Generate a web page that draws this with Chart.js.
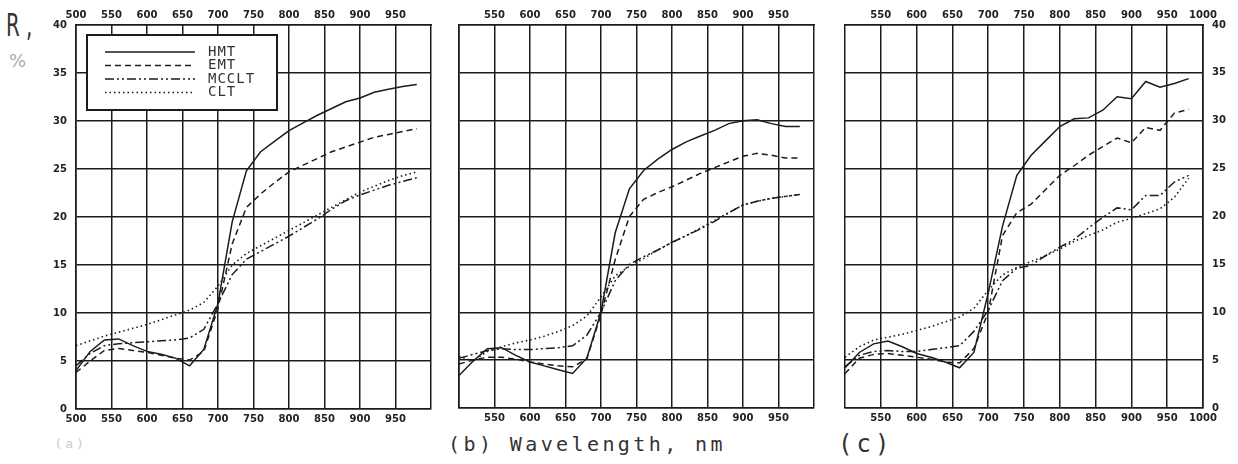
<!DOCTYPE html>
<html>
<head>
<meta charset="utf-8">
<script src="https://cdn.jsdelivr.net/npm/chart.js@4.4.0/dist/chart.umd.min.js"></script>
<style>
    body { margin: 0; background: #fff; width: 1238px; height: 464px; overflow: hidden; position: relative; font-family: 'DejaVu Sans', sans-serif; }
    .panel { position: absolute; top: 0; height: 432px; }
    #wrapA { left: 0; width: 470px; }
    #wrapB { left: 420px; width: 430px; }
    #wrapC { left: 810px; width: 428px; }
    .lbl { position: absolute; color: #222; white-space: nowrap; line-height: 1; }
</style>
</head>
<body>
<div class="lbl" style="left:6px;top:9px;font-size:32px;color:#333;transform:scaleX(0.62);transform-origin:left;">R ,</div>
<div class="lbl" style="left:9px;top:52px;font-size:18px;color:#aaa;">%</div>
<div class="lbl" style="left:56px;top:437px;font-size:13px;color:#ccc;">( a )</div>
<div class="lbl" style="left:448px;top:434px;font-size:20px;letter-spacing:3.4px;font-family:'DejaVu Sans Mono',monospace;color:#333;">(b) Wavelength, nm</div>
<div class="lbl" style="left:838px;top:432px;font-size:24px;letter-spacing:4px;font-family:'DejaVu Sans Mono',monospace;color:#333;">(c)</div>

<div class="panel" id="wrapA"><canvas id="chartA"></canvas></div>
<div class="panel" id="wrapB"><canvas id="chartB"></canvas></div>
<div class="panel" id="wrapC"><canvas id="chartC"></canvas></div>

<script>
// -------------------- Data --------------------
const wavelengths = [500, 520, 540, 560, 580, 600, 620, 640, 660, 680, 700, 720, 740,
                     760, 780, 800, 820, 840, 860, 880, 900, 920, 940, 960, 980];

const seriesNames = ['HMT', 'EMT', 'MCCLT', 'CLT'];

// panel (a)
const hmtA   = [4.0, 6.0, 7.2, 7.3, 6.6, 6.0, 5.7, 5.3, 4.5, 6.2, 11.0, 19.5, 24.8, 26.8, 27.9, 29.0, 29.8, 30.6, 31.3, 32.0, 32.4, 33.0, 33.3, 33.6, 33.8];
const emtA   = [3.8, 5.0, 6.1, 6.3, 6.1, 5.9, 5.6, 5.3, 5.1, 6.0, 10.5, 17.2, 21.0, 22.4, 23.6, 24.7, 25.4, 26.1, 26.8, 27.3, 27.8, 28.3, 28.6, 28.9, 29.2];
const mccltA = [4.5, 5.8, 6.6, 6.8, 6.9, 7.0, 7.1, 7.2, 7.4, 8.3, 11.0, 14.0, 15.6, 16.4, 17.2, 18.0, 18.9, 19.8, 20.8, 21.7, 22.3, 22.8, 23.3, 23.7, 24.1];
const cltA   = [6.6, 7.1, 7.6, 8.0, 8.4, 8.8, 9.3, 9.8, 10.3, 11.1, 12.8, 15.0, 16.2, 17.0, 17.8, 18.6, 19.4, 20.2, 21.0, 21.8, 22.6, 23.2, 23.8, 24.3, 24.7];

// panel (b)
const hmtB   = [3.4, 4.9, 6.2, 6.3, 5.5, 4.8, 4.4, 4.0, 3.6, 5.2, 10.0, 18.3, 22.9, 24.8, 26.0, 27.0, 27.8, 28.4, 29.0, 29.7, 30.0, 30.1, 29.7, 29.4, 29.4];
const emtB   = [4.6, 5.0, 5.3, 5.3, 5.1, 4.8, 4.6, 4.4, 4.3, 5.1, 9.8, 15.5, 20.0, 21.8, 22.5, 23.1, 23.8, 24.5, 25.1, 25.7, 26.3, 26.6, 26.4, 26.1, 26.1];
const mccltB = [5.2, 5.6, 6.0, 6.2, 6.1, 6.1, 6.2, 6.3, 6.5, 7.6, 10.0, 13.3, 15.0, 15.8, 16.5, 17.3, 18.0, 18.7, 19.5, 20.4, 21.2, 21.6, 21.9, 22.1, 22.3];
const cltB   = [5.4, 4.9, 5.9, 6.4, 6.8, 7.1, 7.5, 8.0, 8.6, 9.6, 11.6, 13.8, 14.8, 15.6, 16.5, 17.3, 18.0, 18.8, 19.6, 20.4, 21.2, 21.6, 21.9, 22.1, 22.3];

// panel (c)
const hmtC   = [4.2, 5.8, 6.7, 7.0, 6.4, 5.7, 5.3, 4.8, 4.2, 5.8, 12.0, 19.0, 24.3, 26.4, 27.9, 29.4, 30.2, 30.3, 31.1, 32.5, 32.3, 34.1, 33.5, 33.9, 34.4];
const emtC   = [3.6, 5.2, 5.6, 5.7, 5.5, 5.3, 5.1, 4.8, 4.7, 6.2, 10.0, 18.0, 20.4, 21.3, 22.8, 24.3, 25.3, 26.4, 27.3, 28.2, 27.7, 29.3, 29.0, 30.8, 31.2];
const mccltC = [4.3, 5.5, 5.9, 6.0, 5.9, 5.9, 6.1, 6.3, 6.5, 8.0, 10.2, 13.3, 14.6, 14.9, 15.9, 16.8, 17.6, 18.8, 19.9, 20.9, 20.7, 22.2, 22.2, 23.6, 24.3];
const cltC   = [5.3, 6.4, 7.1, 7.4, 7.7, 8.1, 8.5, 9.0, 9.5, 10.4, 12.3, 13.9, 14.7, 15.3, 15.9, 16.6, 17.4, 18.0, 18.6, 19.4, 19.8, 20.3, 20.8, 22.0, 24.0];

// tick labels
const xTickValues = [500, 550, 600, 650, 700, 750, 800, 850, 900, 950, 1000];
const xTopLabelsA    = ['500', '550', '600', '650', '700', '750', '800', '850', '900', '950', ''];
const xBottomLabelsA = ['500', '550', '600', '650', '700', '750', '800', '850', '900', '950', ''];
const xTopLabelsB    = ['', '550', '600', '650', '700', '750', '800', '850', '900', '950', ''];
const xBottomLabelsB = ['', '550', '600', '650', '700', '750', '800', '850', '900', '950', ''];
const xTopLabelsC    = ['', '550', '600', '650', '700', '750', '800', '850', '900', '950', '1000'];
const xBottomLabelsC = ['', '550', '600', '650', '700', '750', '800', '850', '900', '950', '1000'];
const yTickValues = [0, 5, 10, 15, 20, 25, 30, 35, 40];
const yTickLabels = ['0', '5', '10', '15', '20', '25', '30', '35', '40'];

// -------------------- Styles --------------------
const INK = '#1c1c1c';
const lineDashes = [[], [6, 4], [9, 3, 2, 3, 2, 3], [1.5, 3]];
const tickFont = { family: 'DejaVu Sans', size: 10, weight: 'bold' };

function buildDatasets(seriesList) {
    return seriesList.map((vals, i) => ({
        label: seriesNames[i],
        data: vals.map((v, k) => ({ x: wavelengths[k], y: v })),
        borderColor: INK,
        borderWidth: i === 3 ? 1.6 : 1.5,
        borderDash: lineDashes[i],
        pointRadius: 0,
        tension: 0,
        fill: false,
        xAxisID: 'x',
        yAxisID: 'y'
    }));
}

// -------------------- Legend inside panel (a) --------------------
const legendBox = {
    id: 'legendBox',
    afterDatasetsDraw(chart) {
        const ctx = chart.ctx;
        const area = chart.chartArea;
        const bx = area.left + 11, by = area.top + 10, bw = 190, bh = 75;
        ctx.save();
        ctx.fillStyle = '#fff';
        ctx.fillRect(bx, by, bw, bh);
        ctx.strokeStyle = INK;
        ctx.lineWidth = 2;
        ctx.strokeRect(bx, by, bw, bh);
        ctx.font = '14px "DejaVu Sans Mono"';
        ctx.letterSpacing = '1px';
        ctx.textBaseline = 'middle';
        chart.data.datasets.forEach((ds, i) => {
            const y = by + 17 + i * 13.5;
            ctx.beginPath();
            ctx.setLineDash(ds.borderDash);
            ctx.lineWidth = ds.borderWidth;
            ctx.strokeStyle = INK;
            ctx.moveTo(bx + 18, y);
            ctx.lineTo(bx + 108, y);
            ctx.stroke();
            ctx.setLineDash([]);
            ctx.fillStyle = '#333';
            ctx.fillText(ds.label, bx + 121, y);
        });
        ctx.restore();
    }
};

// -------------------- Panel builder --------------------
function makePanel(canvasId, seriesList, cfg) {
    const gridStyle = { color: INK, lineWidth: 1.5, drawTicks: false };
    const borderStyle = { color: INK, width: 1.6 };
    const xScale = (pos, labels, h) => ({
        type: 'linear',
        position: pos,
        min: 500, max: 1000,
        afterBuildTicks: s => { s.ticks = xTickValues.map(v => ({ value: v })); },
        afterFit: s => { s.height = h; },
        grid: pos === 'bottom' ? gridStyle : { display: false, drawTicks: false },
        border: borderStyle,
        ticks: {
            autoSkip: false, maxRotation: 0, padding: 4, color: '#222', font: tickFont,
            callback: v => labels[xTickValues.indexOf(v)] ?? ''
        }
    });
    new Chart(document.getElementById(canvasId), {
        type: 'line',
        data: { datasets: buildDatasets(seriesList) },
        options: {
            responsive: true,
            maintainAspectRatio: false,
            animation: false,
            layout: { padding: { left: cfg.padLeft, right: cfg.padRight, top: 0, bottom: 0 } },
            plugins: { legend: { display: false }, tooltip: { enabled: false } },
            scales: {
                x: xScale('bottom', cfg.bottomLabels, cfg.bottomH),
                xTop: xScale('top', cfg.topLabels, 25),
                y: {
                    type: 'linear',
                    position: cfg.yPos,
                    min: 0, max: 40,
                    afterBuildTicks: s => { s.ticks = yTickValues.map(v => ({ value: v })); },
                    afterFit: s => { s.width = cfg.yWidth; },
                    grid: gridStyle,
                    border: borderStyle,
                    ticks: {
                        display: cfg.yLabels, padding: 9, color: '#222', font: tickFont,
                        callback: v => yTickLabels[yTickValues.indexOf(v)] ?? ''
                    }
                }
            }
        },
        plugins: cfg.legend ? [legendBox] : []
    });
}

makePanel('chartA', [hmtA, emtA, mccltA, cltA], {
    padLeft: 0, padRight: 39, yPos: 'left', yWidth: 76, yLabels: true, bottomH: 23,
    topLabels: xTopLabelsA, bottomLabels: xBottomLabelsA, legend: true
});
makePanel('chartB', [hmtB, emtB, mccltB, cltB], {
    padLeft: 0, padRight: 36, yPos: 'left', yWidth: 39, yLabels: false, bottomH: 24,
    topLabels: xTopLabelsB, bottomLabels: xBottomLabelsB, legend: false
});
makePanel('chartC', [hmtC, emtC, mccltC, cltC], {
    padLeft: 35, padRight: 0, yPos: 'right', yWidth: 35, yLabels: true, bottomH: 24,
    topLabels: xTopLabelsC, bottomLabels: xBottomLabelsC, legend: false
});
</script>
</body>
</html>
